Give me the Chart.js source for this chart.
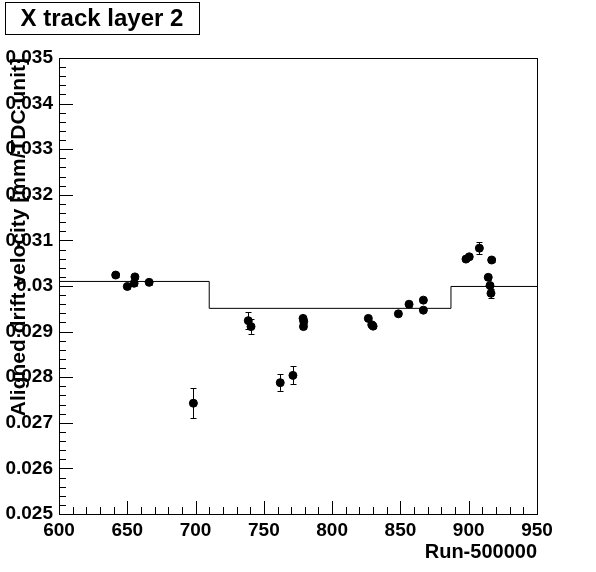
<!DOCTYPE html>
<html>
<head>
<meta charset="utf-8">
<script src="https://cdn.jsdelivr.net/npm/chart.js@4.4.0/dist/chart.umd.min.js"></script>
<style>
  html, body { margin: 0; padding: 0; background: #fff; }
  canvas { display: block; }
</style>
</head>
<body>
<canvas id="c" width="596" height="572"></canvas>
<script>
// run number minus 500000
var runs = [641.5, 650, 655, 655.6, 666, 698.4, 738.6, 740.6, 762, 771.3, 778.7, 779.2, 779,
  826.5, 829, 830, 848.5, 856.3, 866.8, 866.8, 898, 900.4, 907.8, 914.3, 915.6, 916.3, 916.8];
var velocity = [0.03024, 0.02999, 0.03006, 0.03020, 0.03008, 0.02743, 0.02924, 0.02911, 0.02788, 0.02804,
  0.02929, 0.02922, 0.02911, 0.02929, 0.02915, 0.02912, 0.02939, 0.02960, 0.02969, 0.02947,
  0.03059, 0.03064, 0.03083, 0.03019, 0.03001, 0.02984, 0.03057];
var velErr = [0.00005, 0.00005, 0.00005, 0.00005, 0.00005, 0.00033, 0.00018, 0.00016, 0.00018, 0.0002,
  0.00006, 0.00006, 0.00006, 0.00005, 0.00005, 0.00005, 0.00005, 0.00005, 0.00005, 0.00005,
  0.00005, 0.00005, 0.00013, 0.00005, 0.00005, 0.0001, 0.00005];

// step (period average) line
var stepRuns = [600, 710, 887, 950];
var stepVals = [0.03010, 0.02951, 0.02999, 0.02999];

var xMin = 600, xMax = 950, yMin = 0.025, yMax = 0.035;
var FONT = "'Liberation Sans', Arial, Helvetica, sans-serif";

Chart.defaults.font.family = FONT;
Chart.defaults.color = '#000';

var points = runs.map(function (r, i) { return {x: r, y: velocity[i]}; });
var steps = stepRuns.map(function (r, i) { return {x: r, y: stepVals[i]}; });

// frame, ROOT style ticks inside, error bars and the title box
var rootStyle = {
  id: 'rootStyle',
  beforeDraw: function (chart) {
    var ctx = chart.ctx;
    ctx.save();
    ctx.fillStyle = '#fff';
    ctx.fillRect(0, 0, chart.width, chart.height);
    ctx.restore();
  },
  afterDatasetsDraw: function (chart) {
    var ctx = chart.ctx, xs = chart.scales.x, ys = chart.scales.y;
    ctx.save();
    ctx.strokeStyle = '#000';
    ctx.lineWidth = 1;
    ctx.beginPath();
    for (var i = 0; i < runs.length; i++) {
      var px = Math.round(xs.getPixelForValue(runs[i])) + 0.5;
      var top = ys.getPixelForValue(velocity[i] + velErr[i]);
      var bot = ys.getPixelForValue(velocity[i] - velErr[i]);
      ctx.moveTo(px, top); ctx.lineTo(px, bot);
      ctx.moveTo(px - 3, Math.round(top) + 0.5); ctx.lineTo(px + 3, Math.round(top) + 0.5);
      ctx.moveTo(px - 3, Math.round(bot) + 0.5); ctx.lineTo(px + 3, Math.round(bot) + 0.5);
    }
    ctx.stroke();
    ctx.restore();
  },
  afterDraw: function (chart) {
    var ctx = chart.ctx, a = chart.chartArea;
    var xs = chart.scales.x, ys = chart.scales.y;
    ctx.save();
    ctx.strokeStyle = '#000';
    ctx.lineWidth = 1;
    ctx.strokeRect(Math.round(a.left) + 0.5, Math.round(a.top) + 0.5,
      Math.round(a.right - a.left), Math.round(a.bottom - a.top));

    ctx.beginPath();
    var k, p, len;
    for (k = 0; k <= 35; k++) {
      var xv = xMin + k * 10;
      p = Math.round(xs.getPixelForValue(xv)) + 0.5;
      len = (xv % 50 === 0) ? 13 : 7;
      ctx.moveTo(p, a.bottom); ctx.lineTo(p, a.bottom - len);
    }
    for (k = 0; k <= 50; k++) {
      var yv = yMin + k * 0.0002;
      p = Math.round(ys.getPixelForValue(yv)) + 0.5;
      len = (k % 5 === 0) ? 14 : 7;
      ctx.moveTo(a.left, p); ctx.lineTo(a.left + len, p);
    }
    ctx.stroke();

    // title box
    ctx.strokeRect(5.5, 2.5, 194, 32);
    ctx.fillStyle = '#000';
    ctx.font = 'bold 24px ' + FONT;
    ctx.textAlign = 'center';
    ctx.textBaseline = 'middle';
    ctx.fillText('X track layer 2', 102, 19);
    ctx.restore();
  }
};

new Chart(document.getElementById('c'), {
  type: 'scatter',
  data: {
    datasets: [{
      label: 'velocity',
      data: points,
      showLine: false,
      pointRadius: 4,
      pointHoverRadius: 4,
      pointBackgroundColor: '#000',
      pointBorderColor: '#000',
      pointBorderWidth: 1
    }, {
      label: 'average',
      data: steps,
      showLine: true,
      stepped: 'before',
      borderColor: '#000',
      borderWidth: 1,
      pointRadius: 0,
      fill: false
    }]
  },
  options: {
    responsive: false,
    animation: false,
    events: [],
    layout: { padding: { left: 0, top: 58, right: 59, bottom: 0 } },
    plugins: { legend: { display: false }, tooltip: { enabled: false } },
    scales: {
      x: {
        type: 'linear', min: xMin, max: xMax,
        afterFit: function (s) { s.height = 58; },
        border: { display: false },
        grid: { display: false, drawTicks: false },
        ticks: {
          stepSize: 50, autoSkip: false, padding: 5,
          font: { size: 19, weight: 'bold' },
          maxRotation: 0,
          callback: function (v) { return String(v); }
        },
        title: {
          display: true, text: 'Run-500000', align: 'end',
          font: { size: 20, weight: 'bold' },
          padding: { top: 0, bottom: 8 }
        }
      },
      y: {
        type: 'linear', min: yMin, max: yMax,
        afterFit: function (s) { s.width = 59; },
        border: { display: false },
        grid: { display: false, drawTicks: false },
        ticks: {
          stepSize: 0.001, autoSkip: false, padding: 6, maxTicksLimit: 20,
          font: { size: 19, weight: 'bold' },
          callback: function (v) { return String(+v.toFixed(4)); }
        },
        title: {
          display: true, text: 'Aligned drift velocity [mm/TDC unit]', align: 'end',
          font: { size: 21, weight: 'bold' },
          padding: { top: 7, bottom: 0 }
        }
      }
    }
  },
  plugins: [rootStyle]
});
</script>
</body>
</html>
